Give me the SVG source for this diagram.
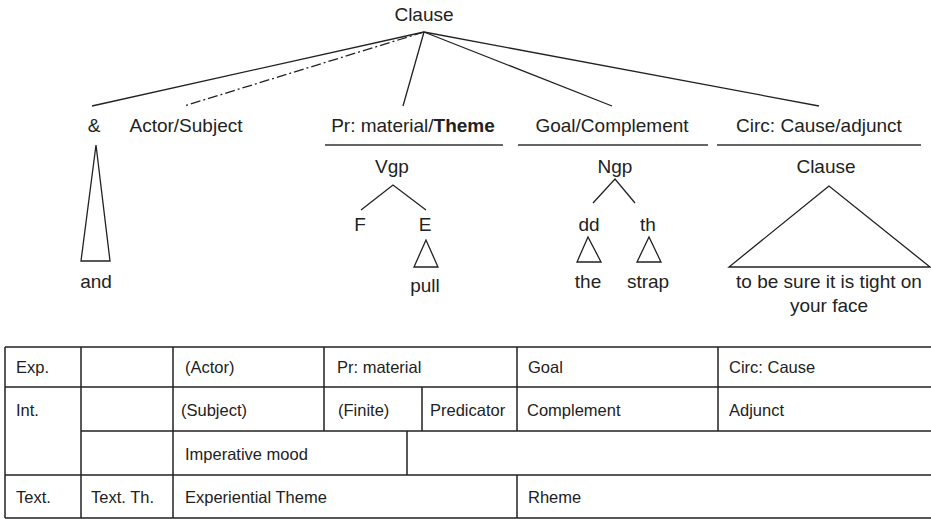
<svg xmlns="http://www.w3.org/2000/svg" width="931" height="519" viewBox="0 0 931 519">
<style>
text{font-family:"Liberation Sans",Arial,sans-serif;fill:#222}
.t{font-size:19px;text-anchor:middle}
.c{font-size:16.5px}
.ln{stroke:#222;stroke-width:1.3;fill:none}
.ul{stroke:#666;stroke-width:2;fill:none}
.tb{stroke:#222;stroke-width:1.5;fill:none}
</style>
<rect width="931" height="519" fill="#fff"/>
<g id="connectors">
<line class="ln" x1="424" y1="32" x2="92" y2="106"/>
<line class="ln" x1="424" y1="32" x2="184" y2="106" stroke-dasharray="10,3,2,3"/>
<line class="ln" x1="424" y1="32" x2="403" y2="106"/>
<line class="ln" x1="424" y1="32" x2="612" y2="106"/>
<line class="ln" x1="424" y1="32" x2="819" y2="106"/>
<polyline class="ln" points="361,210 393,185 426,210"/>
<polyline class="ln" points="593,203 615,179 635,203"/>
</g>
<g id="root"><text class="t" x="424" y="21">Clause</text></g>
<g id="amp">
<text class="t" x="94" y="132">&amp;</text>
<polygon class="ln" points="96,145 81,261 110,261"/>
<text class="t" x="96" y="288">and</text>
</g>
<g id="actor"><text class="t" x="186" y="132">Actor/Subject</text></g>
<g id="pr">
<text class="t" x="413" y="132">Pr: material/<tspan font-weight="bold">Theme</tspan></text>
<line class="ul" x1="325" y1="145" x2="503" y2="145"/>
<text class="t" x="392" y="173">Vgp</text>
<text class="t" x="360" y="231">F</text>
<text class="t" x="425" y="231">E</text>
<polygon class="ln" points="426,240 414,267 438,267"/>
<text class="t" x="425" y="292">pull</text>
</g>
<g id="goal">
<text class="t" x="612" y="132">Goal/Complement</text>
<line class="ul" x1="518" y1="145" x2="708" y2="145"/>
<text class="t" x="615" y="173">Ngp</text>
<text class="t" x="589" y="231">dd</text>
<text class="t" x="648" y="231">th</text>
<polygon class="ln" points="588,237 577,262 601,262"/>
<polygon class="ln" points="649,237 637,262 661,262"/>
<text class="t" x="588" y="288">the</text>
<text class="t" x="648" y="288">strap</text>
</g>
<g id="circ">
<text class="t" x="819" y="132">Circ: Cause/adjunct</text>
<line class="ul" x1="717" y1="145" x2="921" y2="145"/>
<text class="t" x="826" y="173">Clause</text>
<polygon class="ln" points="829,186 729,267 930,267"/>
<text class="t" x="829" y="288">to be sure it is tight on</text>
<text class="t" x="829" y="312">your face</text>
</g>
<g id="table">
<path class="tb" d="M5,347H931M5,387H931M81,431H931M5,475H931M5,518H931M5,347V518M81,347V518M173,347V518M324,347V431M422,387V431M407,431V475M517,347V431M517,475V518M718,347V431"/>
<text class="c" x="16" y="373">Exp.</text>
<text class="c" x="185" y="373">(Actor)</text>
<text class="c" x="337" y="373">Pr: material</text>
<text class="c" x="528" y="373">Goal</text>
<text class="c" x="729" y="373">Circ: Cause</text>
<text class="c" x="16" y="416">Int.</text>
<text class="c" x="181" y="416">(Subject)</text>
<text class="c" x="338" y="416">(Finite)</text>
<text class="c" x="430" y="416">Predicator</text>
<text class="c" x="527" y="416">Complement</text>
<text class="c" x="729" y="416">Adjunct</text>
<text class="c" x="185" y="460">Imperative mood</text>
<text class="c" x="16" y="503">Text.</text>
<text class="c" x="91" y="503">Text. Th.</text>
<text class="c" x="185" y="503">Experiential Theme</text>
<text class="c" x="528" y="503">Rheme</text>
</g>
</svg>
